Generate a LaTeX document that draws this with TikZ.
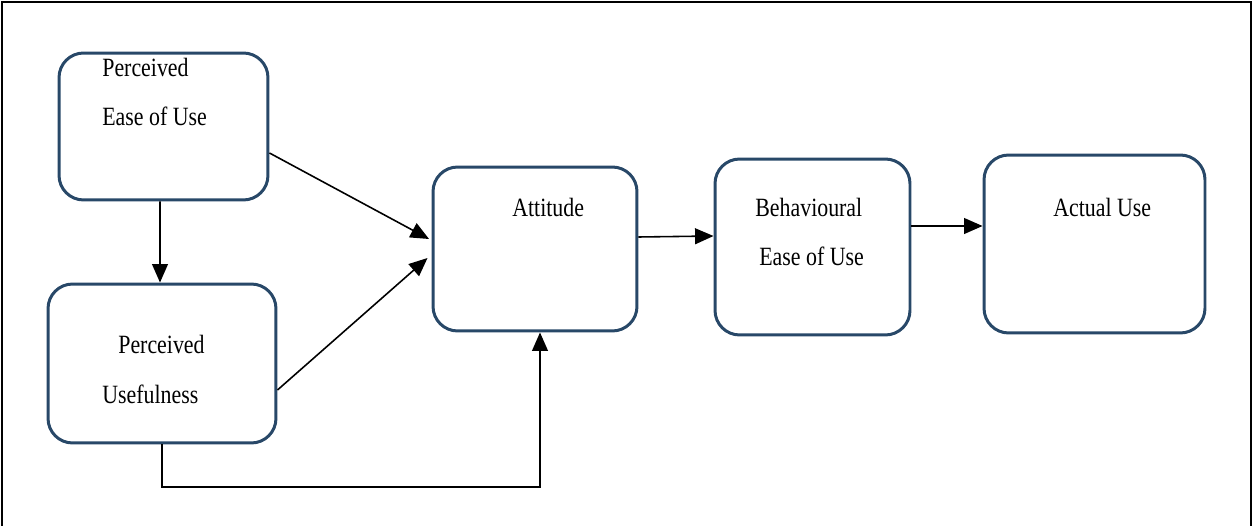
\documentclass[tikz,border=0pt]{standalone}
\usepackage{fontspec}
\newfontfamily\tamfont[FakeStretch=0.83]{Liberation Serif}
\usetikzlibrary{arrows.meta}
\definecolor{boxblue}{RGB}{40,72,104}
\tikzset{construct/.style={draw=boxblue,line width=1.7pt,rounded corners=14pt,inner sep=0pt}}
\tikzstyle{caption}=[inner sep=0pt,anchor=base west,font=\tamfont\fontsize{15}{18}\selectfont]
\tikzstyle{link}=[-{Triangle[length=10.5pt,width=9pt]},line width=0.9pt]

\begin{document}
\begin{tikzpicture}[x=0.02cm,y=-0.02cm]
	\useasboundingbox (0,0) rectangle (1253,526);
	\draw[line width=1.2pt] (2,526) -- (2,2) -- (1251,2) -- (1251,526);
	% the five boxes
	\node (peou)[construct,minimum width=4.18cm,minimum height=2.94cm] at (163.5,126.5) {};
	\node (pu)[construct,minimum width=4.56cm,minimum height=3.18cm] at (162,363.5) {};
	\node (att)[construct,minimum width=4.08cm,minimum height=3.28cm] at (535,249) {};
	\node (beh)[construct,minimum width=3.9cm,minimum height=3.52cm] at (812.5,247) {};
	\node (act)[construct,minimum width=4.42cm,minimum height=3.56cm] at (1094.5,244) {};
	% texts
	\node (peou1)[caption] at (102,77) {Perceived};
	\node (peou2)[caption] at (102,126) {Ease of Use};
	\node (pu1)[caption] at (118,354) {Perceived};
	\node (pu2)[caption] at (102,403) {Usefulness};
	\node (att1)[caption] at (512,217) {Attitude};
	\node (beh1)[caption] at (755,217) {Behavioural};
	\node (beh2)[caption] at (759,266) {Ease of Use};
	\node (act1)[caption] at (1053,217) {Actual Use};
	% links
	\coordinate (loop) at (540,487);
	\draw[link] ([xshift=-0.07cm]peou.south) -- ([xshift=-0.04cm]pu.north);
	\draw[link] ([yshift=-0.53cm]peou.east) -- ([yshift=0.2cm,xshift=-0.05cm]att.west);
	\draw[link] ([yshift=-0.53cm]pu.east) -- ([yshift=-0.18cm,xshift=-0.08cm]att.west);
	\draw[link] (pu.south) |- (loop) -- (loop |- att.south);
	\draw[link] ([yshift=0.24cm]att.east) -- ([yshift=0.22cm]beh.west);
	\draw[link] ([yshift=0.42cm]beh.east) -- ([yshift=0.42cm]beh.east -| act.west);
\end{tikzpicture}
\end{document}
